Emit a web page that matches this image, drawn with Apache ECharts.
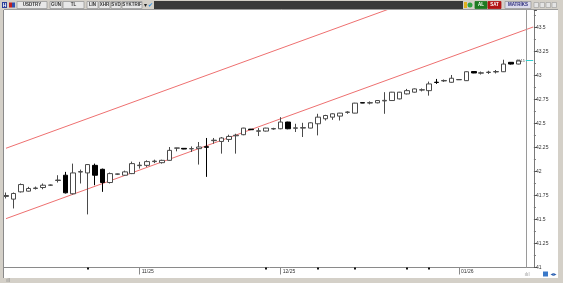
<!DOCTYPE html>
<html><head><meta charset="utf-8">
<script src="https://cdn.jsdelivr.net/npm/echarts@6/dist/echarts.min.js"></script>
<style>html,body{margin:0;padding:0;background:#fff;overflow:hidden}#c{width:563px;height:283px}</style>
</head><body><div id="c"></div>
<script>
// trading days (last two are empty future slots)
const dates = [
 '2025-10-08','2025-10-09','2025-10-10','2025-10-13','2025-10-14','2025-10-15','2025-10-16','2025-10-17','2025-10-20','2025-10-21',
 '2025-10-22','2025-10-23','2025-10-24','2025-10-27','2025-10-28','2025-10-29','2025-10-30','2025-10-31','2025-11-03','2025-11-04',
 '2025-11-05','2025-11-06','2025-11-07','2025-11-10','2025-11-11','2025-11-12','2025-11-13','2025-11-14','2025-11-17','2025-11-18',
 '2025-11-19','2025-11-20','2025-11-21','2025-11-24','2025-11-25','2025-11-26','2025-11-27','2025-11-28','2025-12-01','2025-12-02',
 '2025-12-03','2025-12-04','2025-12-05','2025-12-08','2025-12-09','2025-12-10','2025-12-11','2025-12-12','2025-12-15','2025-12-16',
 '2025-12-17','2025-12-18','2025-12-19','2025-12-22','2025-12-23','2025-12-24','2025-12-25','2025-12-26','2025-12-29','2025-12-30',
 '2025-12-31','2026-01-01','2026-01-02','2026-01-05','2026-01-06','2026-01-07','2026-01-08','2026-01-09','2026-01-12','2026-01-13',
 '2026-01-14','2026-01-15'];

const opens = [41.740,41.712,41.788,41.795,41.823,41.833,41.857,41.906,41.961,41.768,
 41.994,41.985,42.064,42.023,41.885,41.971,41.961,41.978,42.061,42.064,
 42.103,42.092,42.116,42.243,42.241,42.236,42.238,42.258,42.321,42.313,
 42.334,42.372,42.383,42.441,42.419,42.421,42.443,42.445,42.515,42.450,
 42.452,42.452,42.497,42.549,42.566,42.577,42.616,42.608,42.717,42.713,
 42.715,42.735,42.739,42.756,42.808,42.826,42.848,42.842,42.930,42.943,
 42.929,42.955,42.946,43.041,43.024,43.031,43.037,43.039,43.137,43.119];
const closes = [41.750,41.771,41.864,41.823,41.828,41.857,41.859,41.911,41.778,41.985,
 41.999,42.072,41.961,41.885,41.978,41.975,41.996,42.082,42.066,42.103,
 42.108,42.116,42.220,42.245,42.234,42.238,42.255,42.252,42.326,42.349,
 42.365,42.378,42.452,42.435,42.424,42.452,42.447,42.515,42.445,42.455,
 42.457,42.507,42.566,42.583,42.601,42.608,42.619,42.712,42.713,42.717,
 42.739,42.741,42.826,42.826,42.842,42.860,42.852,42.912,42.927,42.948,
 42.971,42.958,43.039,43.026,43.028,43.035,43.041,43.119,43.119,43.154];
const lows = [41.719,41.615,41.781,41.791,41.812,41.815,41.849,41.885,41.771,41.760,
 41.875,41.553,41.857,41.788,41.875,41.963,41.958,41.973,42.030,42.048,
 42.087,42.082,42.113,42.210,42.232,42.203,42.072,41.944,42.289,42.186,
 42.307,42.186,42.378,42.433,42.369,42.417,42.435,42.440,42.440,42.411,
 42.359,42.450,42.376,42.531,42.538,42.531,42.601,42.606,42.712,42.699,
 42.710,42.601,42.735,42.751,42.803,42.822,42.834,42.790,42.912,42.933,
 42.925,42.953,42.943,43.024,43.010,43.016,43.021,43.036,43.114,43.116];
const highs = [41.781,41.781,41.875,41.840,41.843,41.875,41.864,41.961,41.996,42.082,
 42.020,42.077,42.082,42.030,41.989,41.978,42.009,42.103,42.100,42.116,
 42.123,42.123,42.255,42.246,42.241,42.261,42.307,42.349,42.349,42.359,
 42.383,42.393,42.455,42.443,42.452,42.455,42.455,42.566,42.518,42.497,
 42.507,42.512,42.601,42.590,42.606,42.611,42.627,42.715,42.718,42.730,
 42.743,42.826,42.829,42.829,42.860,42.865,42.865,42.936,42.964,42.958,
 43.005,42.961,43.043,43.043,43.041,43.049,43.057,43.164,43.140,43.156];

// trend channel (index, value) endpoints
const trendIdx = [0, 71];
const trendLower = [41.509, 43.505];
const trendUpper = [42.242, 44.238];

// x-axis month marks and session dots
const monthTickIdx = [18, 37, 61];
const monthLabels = ['11/25', '12/25', '01/26'];
const dotIdx = [11, 35, 42, 47, 54, 57];
const nowIdx = 70;

const candles = opens.map((o, i) => [o, closes[i], lows[i], highs[i]]);
const lastClose = closes[closes.length - 1];

const chart = echarts.init(document.getElementById('c'), null, {renderer: 'canvas'});
const font = 'Liberation Sans';

function btn(x, w, txt, fill, color, stroke) {
  return [
    {type: 'rect', shape: {x: x, y: 1.5, width: w, height: 7}, style: {fill: fill, stroke: stroke || '#9a9a9a', lineWidth: 0.8}, z: 101},
    {type: 'text', style: {x: x + w / 2, y: 5.2, text: txt, fill: color, font: 'bold 4.5px ' + font, textAlign: 'center', textVerticalAlign: 'middle'}, z: 102}
  ];
}
const deco = [].concat(
  [{type: 'rect', shape: {x: 0, y: 0, width: 563, height: 10}, style: {fill: '#d4d0c8'}, z: 100},
   {type: 'line', shape: {x1: 0, y1: 9.5, x2: 563, y2: 9.5}, style: {stroke: '#9c9c9c', lineWidth: 1}, z: 100},
   {type: 'rect', shape: {x: 0, y: 0, width: 4, height: 283}, style: {fill: '#d4d0c8'}, z: 100},
   {type: 'line', shape: {x1: 3.5, y1: 10, x2: 3.5, y2: 278}, style: {stroke: '#8a8a8a', lineWidth: 1}, z: 100},
   {type: 'rect', shape: {x: 558, y: 0, width: 5, height: 283}, style: {fill: '#d4d0c8'}, z: 100},
   {type: 'rect', shape: {x: 0, y: 278, width: 563, height: 5}, style: {fill: '#d4d0c8'}, z: 100},
   {type: 'rect', shape: {x: 154, y: 1, width: 309, height: 8}, style: {fill: '#3a3a3a'}, z: 101},
   {type: 'rect', shape: {x: 2, y: 2, width: 5, height: 6}, style: {fill: '#2a3f9a'}, z: 101},
   {type: 'text', style: {x: 4.5, y: 5.2, text: 'H', fill: '#fff', font: 'bold 5px ' + font, textAlign: 'center', textVerticalAlign: 'middle'}, z: 102},
   {type: 'rect', shape: {x: 9, y: 2.5, width: 3, height: 5}, style: {fill: '#c02020'}, z: 101},
   {type: 'rect', shape: {x: 12, y: 2.5, width: 3, height: 5}, style: {fill: '#3050b0'}, z: 101},
   {type: 'text', style: {x: 145, y: 5.2, text: '▾', fill: '#222', font: '6px ' + font, textAlign: 'center', textVerticalAlign: 'middle'}, z: 102},
   {type: 'text', style: {x: 150.5, y: 5.2, text: '✔', fill: '#2f8fe0', font: '6px DejaVu Sans', textAlign: 'center', textVerticalAlign: 'middle'}, z: 102},
   {type: 'rect', shape: {x: 464, y: 2, width: 3, height: 6}, style: {fill: '#e0b020'}, z: 101},
   {type: 'circle', shape: {cx: 470, cy: 5, r: 2.5}, style: {fill: '#30a040'}, z: 101},
   {type: 'rect', shape: {x: 533, y: 2, width: 24, height: 6}, style: {fill: '#d4d0c8'}, z: 101},
   {type: 'rect', shape: {x: 534, y: 2.5, width: 4.5, height: 5}, style: {fill: '#e4e4e4', stroke: '#9a9a9a', lineWidth: 0.6}, z: 102},
   {type: 'rect', shape: {x: 540, y: 2.5, width: 4.5, height: 5}, style: {fill: '#e4e4e4', stroke: '#9a9a9a', lineWidth: 0.6}, z: 102},
   {type: 'rect', shape: {x: 546, y: 2.5, width: 4.5, height: 5}, style: {fill: '#e4e4e4', stroke: '#9a9a9a', lineWidth: 0.6}, z: 102},
   {type: 'rect', shape: {x: 552, y: 2.5, width: 4.5, height: 5}, style: {fill: '#e4e4e4', stroke: '#9a9a9a', lineWidth: 0.6}, z: 102},
   {type: 'text', style: {x: 8, y: 280.5, text: 'ıll', fill: '#888', font: '5px ' + font, textAlign: 'center', textVerticalAlign: 'middle'}, z: 102},
   {type: 'text', style: {x: 527, y: 274.5, text: 'ılıl', fill: '#999', font: '5px ' + font, textAlign: 'center', textVerticalAlign: 'middle'}, z: 102},
   {type: 'rect', shape: {x: 543, y: 271.5, width: 5, height: 5}, style: {fill: '#3a78c8'}, z: 102},
   {type: 'text', style: {x: 553.5, y: 274, text: '◂▸', fill: '#2a5fb0', font: '6px DejaVu Sans', textAlign: 'center', textVerticalAlign: 'middle'}, z: 102}
  ],
  btn(17, 30, 'USDTRY', '#e8e8e8', '#333'),
  btn(50, 12, 'GUN', '#e8e8e8', '#333'),
  btn(63, 21, 'TL', '#e8e8e8', '#333'),
  btn(87, 11, 'LIN', '#e8e8e8', '#333'),
  btn(99, 11, 'XHR', '#e8e8e8', '#333'),
  btn(111, 10, 'SVD', '#e8e8e8', '#333'),
  btn(122, 20, 'SYKTRIF', '#e8e8e8', '#333'),
  btn(475, 12, 'AL', '#1e7a22', '#fff', '#1e7a22'),
  btn(488, 13, 'SAT', '#b21414', '#fff', '#b21414'),
  btn(505, 26, 'MATRİKS', '#dcdcec', '#2a2a7a')
);

chart.setOption({
  animation: false,
  backgroundColor: '#ffffff',
  grid: {left: 2.3, right: 26.1, top: 10, bottom: 15.5},
  xAxis: [{
    type: 'category', data: dates, boundaryGap: true,
    axisLine: {show: true, lineStyle: {color: '#8a8a8a', width: 1}},
    axisTick: {show: true, alignWithLabel: true, length: 7, lineStyle: {color: '#8a8a8a'},
      interval: (i) => monthTickIdx.includes(i)},
    axisLabel: {show: true, fontSize: 5, fontFamily: font, color: '#333', margin: 1.5, align: 'left', padding: [0, 0, 0, 2],
      interval: (i) => monthTickIdx.includes(i),
      formatter: (v, i) => monthLabels[monthTickIdx.indexOf(i)] || ''},
    splitLine: {show: false}
  }, {
    type: 'category', data: dates, boundaryGap: true, position: 'bottom', gridIndex: 0,
    axisLine: {show: false}, axisLabel: {show: false}, splitLine: {show: false},
    axisTick: {show: true, alignWithLabel: true, length: 2, lineStyle: {color: '#111', width: 2},
      interval: (i) => dotIdx.includes(i)}
  }],
  yAxis: {
    type: 'value', position: 'right', offset: -3, min: 41, max: 43.682, interval: 0.25, scale: true,
    axisLine: {show: true, lineStyle: {color: '#7a7a7a'}},
    axisTick: {show: true, inside: false, length: 3, lineStyle: {color: '#555'}},
    minorTick: {show: true, splitNumber: 2, length: 2, lineStyle: {color: '#777'}},
    axisLabel: {fontSize: 5, fontFamily: font, color: '#333', margin: 2, showMaxLabel: false,
      formatter: (v) => String(+v.toFixed(2))},
    splitLine: {show: false}
  },
  series: [
    {
      type: 'candlestick', name: 'USDTRY', data: candles, barWidth: 5,
      itemStyle: {color: '#ffffff', color0: '#000000', borderColor: '#4a4a4a', borderColor0: '#000000', borderWidth: 1},
      markLine: {
        silent: true, symbol: 'none', animation: false,
        data: [
          [{xAxis: nowIdx, yAxis: 41, lineStyle: {color: '#9a9a9a', width: 1, type: 'solid'}, label: {show: false}},
           {xAxis: nowIdx, yAxis: 43.682}],
          [{coord: [nowIdx, lastClose], lineStyle: {color: '#30d0d0', width: 1, type: 'solid'},
            label: {show: true, position: 'start', fontSize: 3.5, color: '#444', distance: 1, formatter: () => lastClose.toFixed(2)}},
           {coord: [nowIdx + 1, lastClose]}]
        ]
      }
    },
    {type: 'line', data: trendIdx.map((x, i) => [x, trendLower[i]]), symbol: 'none', silent: true,
     lineStyle: {color: '#ee7070', width: 1}, z: 1},
    {type: 'line', data: trendIdx.map((x, i) => [x, trendUpper[i]]), symbol: 'none', silent: true,
     lineStyle: {color: '#ee7070', width: 1}, z: 1}
  ],
  graphic: deco
});
</script></body></html>
